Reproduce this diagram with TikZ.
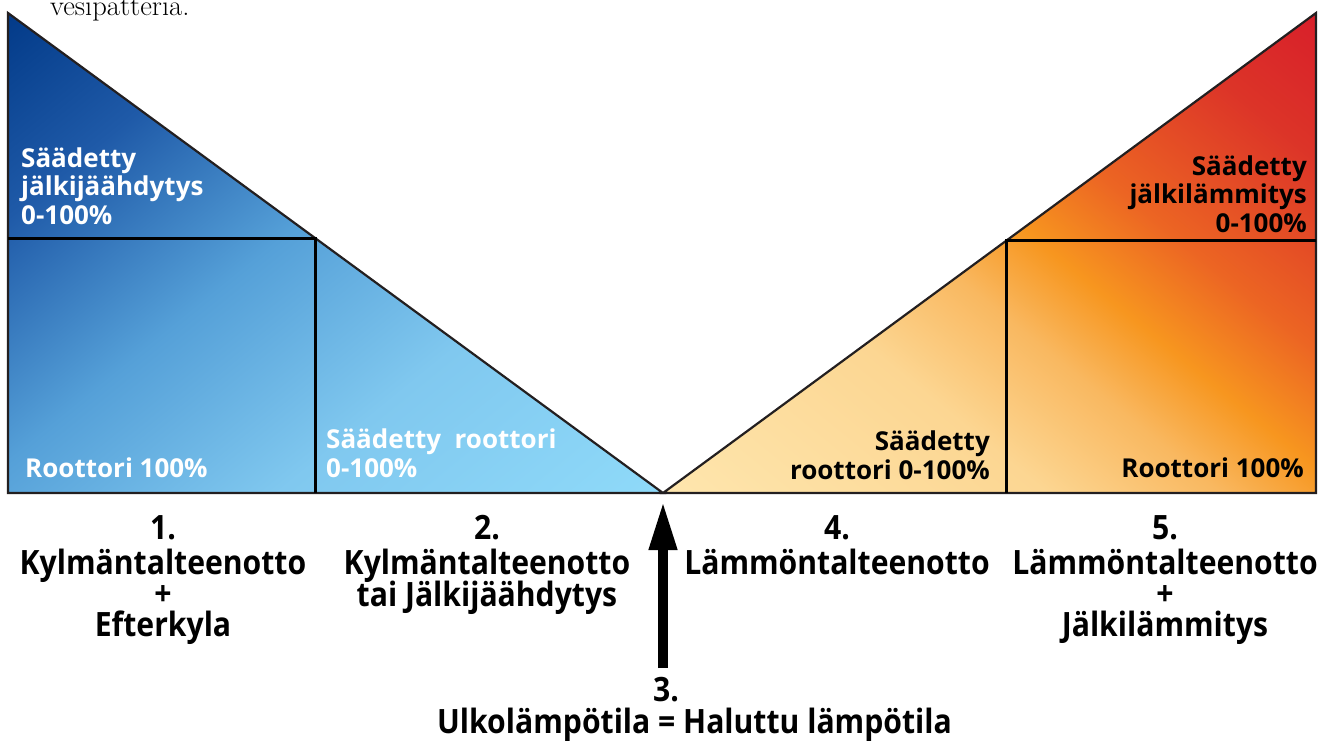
\documentclass[tikz,border=0pt]{standalone}
\usepackage{fontspec}
\newfontfamily\osans{Open Sans}
\newfontfamily\osanscond{Open Sans}[FakeStretch=0.9]
\usetikzlibrary{arrows.meta}
% cold gradient stops
\definecolor{cA}{HTML}{8FDAF9}
\definecolor{cB}{HTML}{80C8EF}
\definecolor{cC}{HTML}{55A0D8}
\definecolor{cD}{HTML}{1F5AA8}
\definecolor{cE}{HTML}{023A88}
% warm gradient stops
\definecolor{wA}{HTML}{FEE6AE}
\definecolor{wB}{HTML}{FCD692}
\definecolor{wC}{HTML}{F9B860}
\definecolor{wD}{HTML}{F7961F}
\definecolor{wE}{HTML}{EC6523}
\definecolor{wF}{HTML}{DC3428}
\definecolor{wG}{HTML}{D81F2A}
\definecolor{edge}{HTML}{231F20}
\pgfdeclareverticalshading{coldgrad}{100bp}{color(0bp)=(cA); color(25bp)=(cA); color(40.5bp)=(cB); color(52.9bp)=(cC); color(64.9bp)=(cD); color(75bp)=(cE); color(100bp)=(cE)}
\pgfdeclareverticalshading{warmgrad}{100bp}{color(0bp)=(wA); color(25bp)=(wA); color(40.5bp)=(wB); color(47.5bp)=(wC); color(52.5bp)=(wD); color(58.3bp)=(wE); color(67.8bp)=(wF); color(75bp)=(wG); color(100bp)=(wG)}
\tikzset{
  outline/.style={draw=edge, line width=2.2pt, line join=miter},
  divider/.style={draw=black, line width=3pt, line join=miter},
  inlab/.style={inner sep=0pt, font=\osans\bfseries\fontsize{26}{28.5}\selectfont},
  botlab/.style={inner sep=0pt, anchor=base, font=\osanscond\bfseries\fontsize{33.5}{36}\selectfont},
  bigarrow/.style={line width=10pt, -{Triangle[width=26pt,length=49pt]}},
}
\begin{document}
\begin{tikzpicture}[x=1pt,y=-1pt]
\useasboundingbox (0,0) rectangle (1323,740);
% vertices
\coordinate (LT) at (8,13);
\coordinate (LB) at (8,493);
\coordinate (apex) at (663,493);
\coordinate (RT) at (1316,13);
\coordinate (RB) at (1316,493);
\coordinate (LM) at (8,238);
\coordinate (LC) at (315.5,238);
\coordinate (LD) at (315.5,493);
\coordinate (RC) at (1006.5,240);
\coordinate (RM) at (1316,240);
\coordinate (RD) at (1006.5,493);
\coordinate (foot) at (663,668);
% top note
\node[anchor=base west, inner sep=0pt, font=\fontsize{28.6}{32}\selectfont] (note) at (50,15) {vesipatteria.};
% fills
\begin{scope}
  \clip (LT) -- (LB) -- (apex) -- cycle;
  \begin{scope}[transform canvas={shift={(335.5,253)}, rotate=39.2}]
    \shade[shading=coldgrad] (-700pt,-393pt) rectangle (700pt,393pt);
  \end{scope}
\end{scope}
\begin{scope}
  \clip (RT) -- (RB) -- (apex) -- cycle;
  \begin{scope}[transform canvas={shift={(989.5,253)}, rotate=-39.2}]
    \shade[shading=warmgrad] (-700pt,-393pt) rectangle (700pt,393pt);
  \end{scope}
\end{scope}
% outlines
\draw[outline] (LT) -- (LB) -- (apex) -- cycle;
\draw[outline] (RT) -- (RB) -- (apex) -- cycle;
\draw[divider] (LM) -- (LC) -- (LD);
\draw[divider] (RM) -- (RC) -- (RD);
% inner labels, left
\begin{scope}[every node/.style={inlab, text=white}]
\node[anchor=base west] (l1a) at (21,167) {Säädetty};
\node[anchor=base west] (l1b) at (21,195.5) {jälkijäähdytys};
\node[anchor=base west] (l1c) at (21,224) {0-100\%};
\node[anchor=base west] (l2) at (25,477) {Roottori 100\%};
\node[anchor=base west] (l3a) at (326,448) {Säädetty\ \ roottori};
\node[anchor=base west] (l3b) at (326,477) {0-100\%};
\end{scope}
% inner labels, right
\begin{scope}[every node/.style={inlab, text=black}]
\node[anchor=base east] (r1a) at (990,450) {Säädetty};
\node[anchor=base east] (r1b) at (990,479) {roottori 0-100\%};
\node[anchor=base east] (r2) at (1304,477) {Roottori 100\%};
\node[anchor=base east] (r3a) at (1307,175) {Säädetty};
\node[anchor=base east] (r3b) at (1307,203.5) {jälkilämmitys};
\node[anchor=base east] (r3c) at (1307,232) {0-100\%};
\end{scope}
% bottom labels
\node[botlab] (b1a) at (163,539) {1.};
\node[botlab] (b1b) at (163,574) {Kylmäntalteenotto};
\node[botlab] (b1c) at (163,605) {+};
\node[botlab] (b1d) at (163,636) {Efterkyla};
\node[botlab] (b2a) at (487,539) {2.};
\node[botlab] (b2b) at (487,574) {Kylmäntalteenotto};
\node[botlab] (b2c) at (487,606) {tai Jälkijäähdytys};
\node[botlab] (b4a) at (837,539) {4.};
\node[botlab] (b4b) at (837,574) {Lämmöntalteenotto};
\node[botlab] (b5a) at (1165,539) {5.};
\node[botlab] (b5b) at (1165,574) {Lämmöntalteenotto};
\node[botlab] (b5c) at (1165,605) {+};
\node[botlab] (b5d) at (1165,636) {Jälkilämmitys};
\node[botlab] (b3a) at (666,701) {3.};
\node[botlab] (b3b) at (694.5,733) {Ulkolämpötila = Haluttu lämpötila};
% arrow
\draw[bigarrow] (foot) -- ([yshift=-8pt]apex);
\end{tikzpicture}
\end{document}
